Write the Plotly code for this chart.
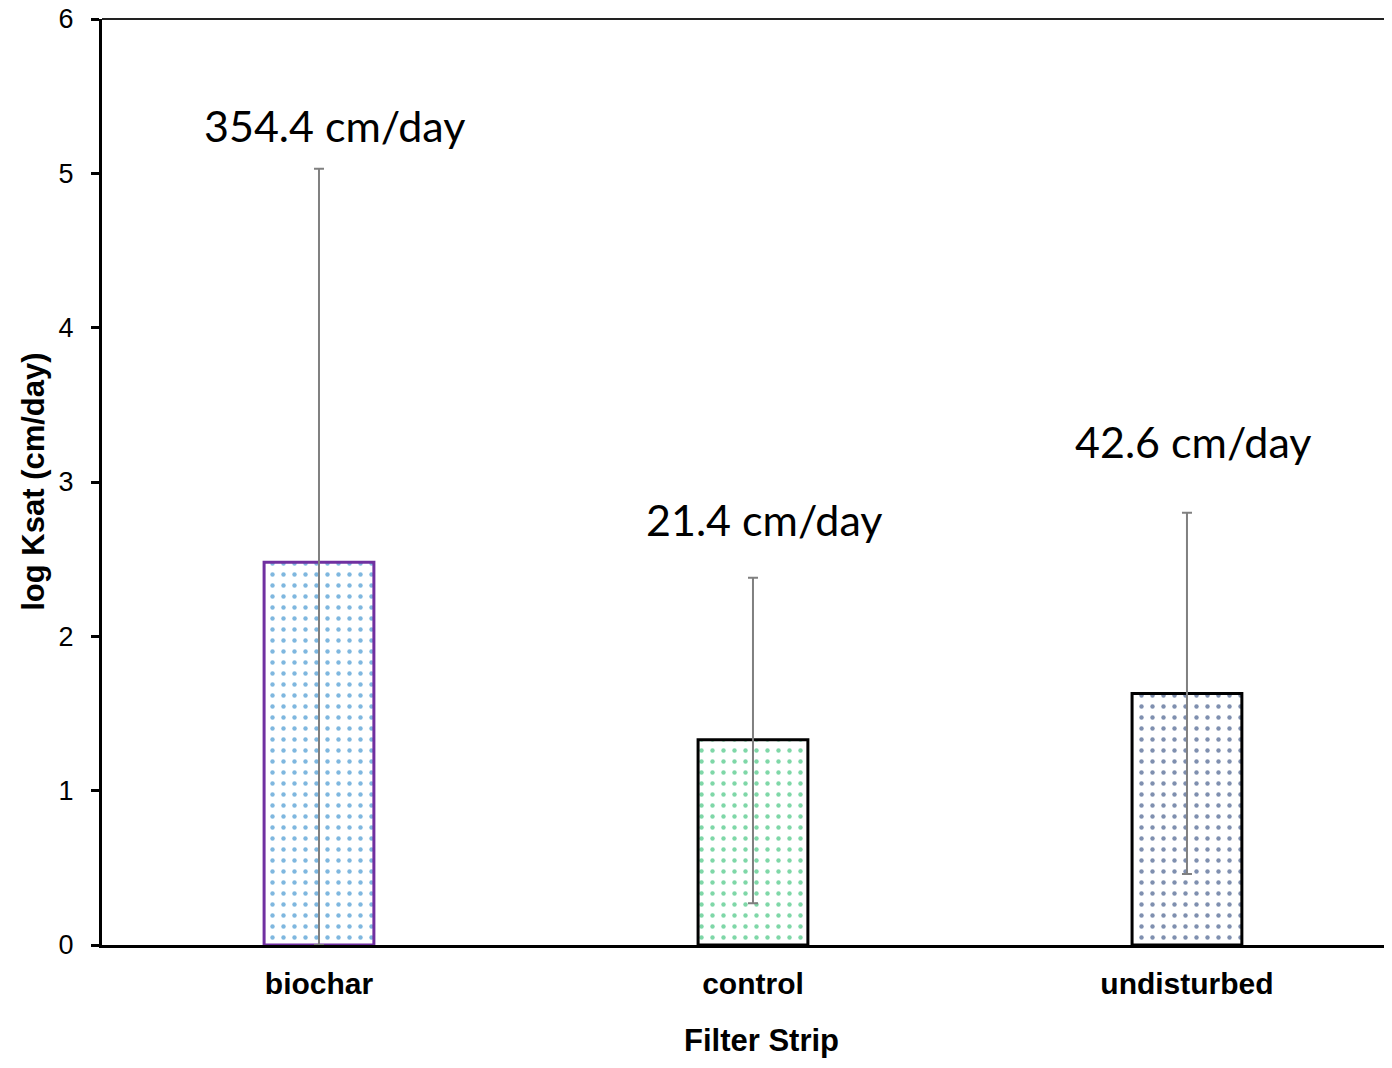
import plotly.graph_objects as go

categories = ["biochar", "control", "undisturbed"]
log_ksat = [2.48, 1.33, 1.63]
err_plus = [2.55, 1.05, 1.17]
err_minus = [2.48, 1.06, 1.17]
labels = ["354.4 cm/day", "21.4 cm/day", "42.6 cm/day"]
label_y = [5.31, 2.76, 3.26]
label_dx = [0.035, 0.025, 0.015]

outline_colors = ["#7030A0", "#000000", "#000000"]
dot_colors = ["#0070C0", "#00B050", "#002060"]

fig = go.Figure()
for i, cat in enumerate(categories):
    fig.add_trace(go.Bar(
        x=[cat], y=[log_ksat[i]], width=0.253,
        marker=dict(color="white",
                    line=dict(color=outline_colors[i], width=3),
                    pattern=dict(shape=".", fgcolor=dot_colors[i], bgcolor="white",
                                 size=11, solidity=0.13)),
        error_y=dict(type="data", symmetric=False, array=[err_plus[i]], arrayminus=[err_minus[i]],
                     color="#808080", thickness=2, width=5),
        showlegend=False,
    ))

for i, cat in enumerate(categories):
    fig.add_annotation(x=i + label_dx[i], y=label_y[i], xref="x", yref="y", text=labels[i],
                       showarrow=False, font=dict(family="Lato, Open Sans, sans-serif", size=43, color="black"))

# axis titles
fig.add_annotation(x=0.5148, y=-0.1026, xref="paper", yref="paper", text="<b>Filter Strip</b>",
                   showarrow=False, xanchor="center", yanchor="middle",
                   font=dict(size=31, family="Arial, Liberation Sans, sans-serif", color="black"))
fig.add_annotation(x=-0.054, y=0.5, xref="paper", yref="paper", text="<b>log Ksat (cm/day)</b>",
                   showarrow=False, xanchor="center", yanchor="middle", textangle=-90,
                   font=dict(size=31, family="Arial, Liberation Sans, sans-serif", color="black"))

fig.add_shape(type="line", xref="paper", yref="paper", x0=0, x1=1, y0=1, y1=1,
              line=dict(color="#222222", width=2))

fig.update_layout(
    width=1376, height=1052,
    margin=dict(l=94, r=0, t=11, b=115, autoexpand=False),
    plot_bgcolor="white", paper_bgcolor="white",
    font=dict(family="Arial, Liberation Sans, sans-serif", color="black"),
    bargap=0.5,
)
fig.update_xaxes(range=[-0.5, 2.454], showline=True, linecolor="black", linewidth=3,
                 ticks="", showgrid=False, zeroline=False, automargin=False,
                 tickfont=dict(size=30, family="Arial, Liberation Sans, sans-serif", weight="bold"),
                 ticklabelstandoff=10)
fig.update_yaxes(range=[0, 6], dtick=1, showline=True, linecolor="black", linewidth=3,
                 ticks="outside", ticklen=8, tickwidth=3, tickcolor="black",
                 showgrid=False, zeroline=False, tickfont=dict(size=27), automargin=False,
                 ticklabelstandoff=12, ticklabeloverflow="allow")

fig.write_html("out.html")
